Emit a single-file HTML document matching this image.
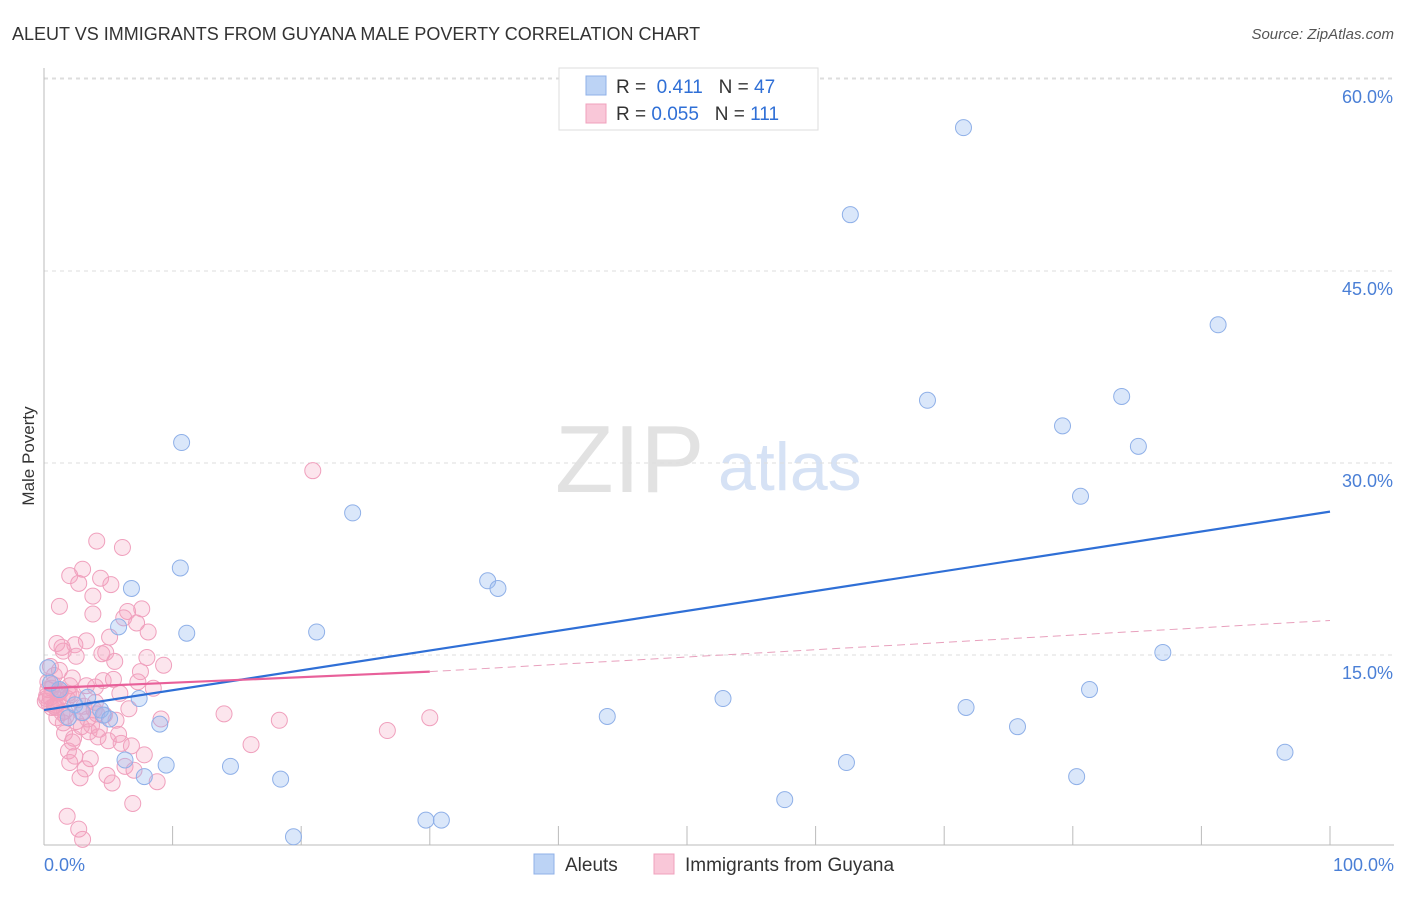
<!DOCTYPE html>
<html><head><meta charset="utf-8"><style>
body{margin:0;background:#fff;font-family:"Liberation Sans",sans-serif;}
svg text{font-family:"Liberation Sans",sans-serif;}
</style></head><body>
<svg id="chart" width="1406" height="892">
<text x="12" y="40" font-size="18" fill="#333">ALEUT VS IMMIGRANTS FROM GUYANA MALE POVERTY CORRELATION CHART</text>
<text x="1394" y="39" font-size="15" fill="#555" font-style="italic" text-anchor="end">Source: ZipAtlas.com</text>
<text x="34" y="456" font-size="17" fill="#333" transform="rotate(-90 34 456)" text-anchor="middle">Male Poverty</text>
<text x="555" y="492" font-size="96" fill="#e2e2e2" font-family="Liberation Serif">ZIP</text>
<text x="718" y="490" font-size="68" fill="#d6e2f5">atlas</text>
<g id="grid"></g><g id="ticks"></g><g id="pts"></g><g id="lines"></g>
<g>
<rect x="559" y="68" width="259" height="62" fill="#fff" stroke="#ddd"/>
<rect x="586" y="76" width="20" height="19" fill="#bcd3f5" stroke="#8fb0e8"/>
<text x="616" y="93" font-size="19" fill="#333">R = <tspan fill="#2f6fd6">&#160;0.411</tspan>&#160;&#160;&#160;N = <tspan fill="#2f6fd6">47</tspan></text>
<rect x="586" y="104" width="20" height="19" fill="#f9c7d8" stroke="#f0a0bd"/>
<text x="616" y="120" font-size="19" fill="#333">R = <tspan fill="#2f6fd6">0.055</tspan>&#160;&#160;&#160;N = <tspan fill="#2f6fd6">111</tspan></text>
</g>
<g>
<rect x="534" y="854" width="20" height="20" fill="#bcd3f5" stroke="#8fb0e8"/>
<text x="565" y="871" font-size="19" fill="#333">Aleuts</text>
<rect x="654" y="854" width="20" height="20" fill="#f9c7d8" stroke="#f0a0bd"/>
<text x="685" y="871" font-size="19" fill="#333">Immigrants from Guyana</text>
</g>
<text x="44" y="871" font-size="18" fill="#4a7fd6">0.0%</text>
<text x="1394" y="871" font-size="18" fill="#4a7fd6" text-anchor="end">100.0%</text>
</svg>
<script>
const yTicks=[15,30,45,60];
const yTickLabels=["15.0%","30.0%","45.0%","60.0%"];
const xTicks=[0,10,20,30,40,50,60,70,80,90,100];
const aleutX=[71.5,62.7,91.3,68.7,83.8,79.2,85.1,10.7,80.6,24.0,34.5,35.3,10.6,6.8,11.1,21.2,5.8,87.0,81.3,7.4,52.8,71.7,43.8,75.7,9.0,4.6,1.9,3.4,0.3,96.5,6.3,9.5,14.5,62.4,80.3,7.8,18.4,57.6,29.7,30.9,19.4,4.4,1.2,2.4,5.1,0.5,3.0];
const aleutY=[56.2,49.4,40.8,34.9,35.2,32.9,31.3,31.6,27.4,26.1,20.8,20.2,21.8,20.2,16.7,16.8,17.2,15.2,12.3,11.6,11.6,10.9,10.2,9.4,9.6,10.3,10.1,11.7,14.0,7.4,6.8,6.4,6.3,6.6,5.5,5.5,5.3,3.7,2.1,2.1,0.8,10.7,12.3,11.1,10.0,12.8,10.5];
const guyX=[20.9,14.0,18.3,16.1,26.7,30.0,4.1,6.1,2.0,2.7,3.0,4.4,5.2,1.2,3.8,6.5,8.1,7.2,2.4,4.8,5.5,1.0,1.5,0.5,0.8,0.3,0.6,1.1,1.8,2.2,3.3,4.0,4.6,5.9,7.5,8.5,9.1,0.2,0.4,0.9,1.4,1.7,2.5,2.9,3.5,4.2,5.0,6.0,6.8,7.8,1.3,2.1,2.6,3.1,3.9,4.7,5.6,1.6,2.3,0.7,1.9,3.6,6.3,7.0,8.8,0.1,1.2,2.0,3.2,4.9,5.3,2.8,1.0,0.5,1.6,2.4,3.7,4.3,5.8,6.6,7.3,8.0,9.3,0.3,0.9,1.5,2.2,3.4,4.1,1.8,2.7,3.0,0.6,1.1,2.0,4.5,5.1,6.2,7.6,1.4,2.5,3.3,0.8,1.9,0.2,2.9,4.0,5.4,6.9,1.2,3.8];
const guyY=[29.4,10.4,9.9,8.0,9.1,10.1,23.9,23.4,21.2,20.6,21.7,21.0,20.5,18.8,18.2,18.4,16.8,17.5,15.8,15.2,14.5,15.9,15.3,14.1,13.4,12.9,12.4,12.0,11.6,13.2,12.6,11.3,13.0,12.0,13.7,12.4,10.0,11.8,11.2,10.9,10.5,10.2,9.8,9.4,9.0,8.6,8.3,8.1,7.9,7.2,12.2,11.9,11.5,11.0,10.7,10.3,9.9,8.9,8.5,12.7,7.5,6.9,6.3,6.0,5.1,11.4,12.1,6.6,6.1,5.6,5.0,5.4,10.1,11.7,10.6,7.1,9.5,9.2,8.8,10.8,12.9,14.8,14.2,12.3,11.1,9.7,8.2,10.0,10.4,2.4,1.4,0.6,10.9,11.5,12.6,15.1,16.4,17.9,18.6,15.6,14.9,16.1,11.0,12.0,11.6,10.5,12.5,13.1,3.4,13.8,19.6];
const blueLine=[10.7,26.2];
const pinkLine=[12.4,13.7,17.7];
const X=v=>44+v*12.86, Y=v=>847-v*12.8;
const ns="http://www.w3.org/2000/svg";
function mk(t,a,p){const e=document.createElementNS(ns,t);for(const k in a)e.setAttribute(k,a[k]);p.appendChild(e);return e;}
const grid=document.getElementById('grid'),ticks=document.getElementById('ticks'),pts=document.getElementById('pts'),lines=document.getElementById('lines');
yTicks.forEach((v,i)=>{
 const l=mk('line',{x1:44,x2:1394,y1:Y(v),y2:Y(v),stroke:'#ddd','stroke-dasharray':'4,4'},grid);
 
 
 const t=mk('text',{x:1393,y:Y(v)+24,'font-size':18,fill:'#4a7fd6','text-anchor':'end'},grid);
 t.textContent=yTickLabels[i];
 
 
});
const topLine=mk('line',{x1:44,x2:1394,y1:78,y2:78,stroke:'#ddd','stroke-dasharray':'4,4'},grid);


const ax=mk('line',{x1:44,x2:1394,y1:845,y2:845,stroke:'#bbb'},ticks);


const ay=mk('line',{x1:44,x2:44,y1:68,y2:845,stroke:'#bbb'},ticks);


xTicks.forEach(v=>{
 const l=mk('line',{x1:X(v),x2:X(v),y1:826,y2:845,stroke:'#bbb'},ticks);
 
 
});
guyX.forEach((v,i)=>{
 const c=mk('circle',{cx:X(v),cy:Y(guyY[i]),r:8,fill:'rgba(245,160,190,0.28)',stroke:'#f0a0bd','stroke-width':1},pts);
 
 
});
aleutX.forEach((v,i)=>{
 const c=mk('circle',{cx:X(v),cy:Y(aleutY[i]),r:8,fill:'rgba(150,185,240,0.35)',stroke:'#8fb0e8','stroke-width':1},pts);
 
 
});
const bl=mk('line',{x1:X(0),y1:Y(blueLine[0]),x2:X(100),y2:Y(blueLine[1]),stroke:'#2f6fd6','stroke-width':2.2},lines);


const pl=mk('line',{x1:X(0),y1:Y(pinkLine[0]),x2:X(30),y2:Y(pinkLine[1]),stroke:'#e8609a','stroke-width':2.2},lines);


const pd=mk('line',{x1:X(30),y1:Y(pinkLine[1]),x2:X(100),y2:Y(pinkLine[2]),stroke:'#e8a0bd','stroke-width':1,'stroke-dasharray':'8,5'},lines);


</script>
</body></html>
